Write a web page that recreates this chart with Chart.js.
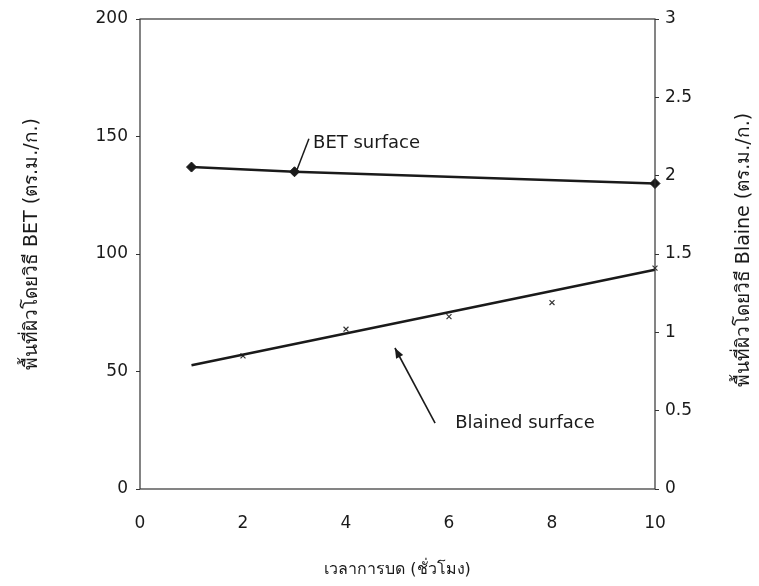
<!DOCTYPE html>
<html>
<head>
<meta charset="utf-8">
<script src="https://cdn.jsdelivr.net/npm/chart.js@4/dist/chart.umd.min.js"></script>
<style>
html,body{margin:0;padding:0;background:#fff;}
#wrap{width:759px;height:586px;position:relative;}
</style>
</head>
<body>
<div id="wrap"><canvas id="c"></canvas></div>
<script>
// ---- data ----
const betHours = [1, 3, 10];
const betValues = [137, 135, 130];                    // left axis (BET)
const blaineHours = [2, 4, 6, 8, 10];
const blaineValues = [0.85, 1.02, 1.10, 1.19, 1.41];  // right axis (Blaine)
const blaineTrendHours = [1, 10];
const blaineTrendValues = [0.79, 1.40];
const xTicks = [0, 2, 4, 6, 8, 10];
const leftTicks = [0, 50, 100, 150, 200];
const rightTicks = [0, 0.5, 1, 1.5, 2, 2.5, 3];

const xTitle = 'เวลาการบด (ชั่วโมง)';
const leftTitle = 'พื้นที่ผิวโดยวิธี BET (ตร.ม./ก.)';
const rightTitle = 'พื้นที่ผิวโดยวิธี Blaine (ตร.ม./ก.)';
const betNote = 'BET surface';
const blaineNote = 'Blained surface';

const FONT = '"DejaVu Sans", "Noto Sans", sans-serif';
const INK = '#1a1a1a';

const pts = (xs, ys) => xs.map((x, i) => ({x: x, y: ys[i]}));

const framePlugin = {
  id: 'frame',
  afterDraw(chart) {
    const {ctx, chartArea: a, scales} = chart;
    ctx.save();
    ctx.strokeStyle = '#333';
    ctx.lineWidth = 1.2;
    ctx.strokeRect(a.left, a.top, a.right - a.left, a.bottom - a.top);
    const X = scales.x, L = scales.y, R = scales.y2;
    ctx.fillStyle = INK;
    ctx.strokeStyle = INK;
    // rotated axis titles (both read bottom-to-top)
    ctx.font = '19px ' + FONT;
    ctx.textAlign = 'center';
    ctx.textBaseline = 'middle';
    ctx.save();
    ctx.translate(32, 244);
    ctx.rotate(-Math.PI / 2);
    ctx.fillText(leftTitle, 0, 0);
    ctx.restore();
    ctx.save();
    ctx.translate(744, 250);
    ctx.rotate(-Math.PI / 2);
    ctx.fillText(rightTitle, 0, 0);
    ctx.restore();
    // BET label with leader
    ctx.font = '18px ' + FONT;
    ctx.lineWidth = 1.5;
    ctx.beginPath();
    ctx.moveTo(X.getPixelForValue(3.28), L.getPixelForValue(149));
    ctx.lineTo(X.getPixelForValue(3.05), L.getPixelForValue(136));
    ctx.stroke();
    ctx.textAlign = 'left';
    ctx.fillText(betNote, X.getPixelForValue(3.36), L.getPixelForValue(147));
    // Blaine label with arrow
    const tx = X.getPixelForValue(5.73), ty = R.getPixelForValue(0.42);
    const hx = X.getPixelForValue(4.95), hy = R.getPixelForValue(0.90);
    ctx.lineWidth = 1.6;
    ctx.beginPath();
    ctx.moveTo(tx, ty);
    ctx.lineTo(hx, hy);
    ctx.stroke();
    const ang = Math.atan2(hy - ty, hx - tx);
    const hl = 10, hw = 4;
    ctx.beginPath();
    ctx.moveTo(hx, hy);
    ctx.lineTo(hx - hl * Math.cos(ang) + hw * Math.sin(ang), hy - hl * Math.sin(ang) - hw * Math.cos(ang));
    ctx.lineTo(hx - hl * Math.cos(ang) - hw * Math.sin(ang), hy - hl * Math.sin(ang) + hw * Math.cos(ang));
    ctx.closePath();
    ctx.fill();
    ctx.fillText(blaineNote, X.getPixelForValue(6.12), R.getPixelForValue(0.42));
    ctx.restore();
  }
};

new Chart(document.getElementById('c'), {
  type: 'scatter',
  data: {
    datasets: [
      {
        label: 'BET surface',
        data: pts(betHours, betValues),
        yAxisID: 'y',
        showLine: true,
        clip: false,
        borderColor: INK,
        backgroundColor: INK,
        borderWidth: 2.6,
        pointStyle: 'rectRot',
        pointRadius: 5,
        pointBorderWidth: 1
      },
      {
        label: 'Blaine trend',
        data: pts(blaineTrendHours, blaineTrendValues),
        yAxisID: 'y2',
        showLine: true,
        clip: false,
        borderColor: INK,
        borderWidth: 2.6,
        pointRadius: 0
      },
      {
        label: 'Blained surface',
        data: pts(blaineHours, blaineValues),
        yAxisID: 'y2',
        showLine: false,
        clip: false,
        borderColor: '#333',
        backgroundColor: '#333',
        pointStyle: 'crossRot',
        pointRadius: 3.5,
        pointBorderWidth: 1.2
      }
    ]
  },
  options: {
    responsive: true,
    maintainAspectRatio: false,
    animation: false,
    layout: {padding: {left: 8, right: 2, top: 19, bottom: 3}},
    plugins: {legend: {display: false}, tooltip: {enabled: false}},
    scales: {
      x: {
        type: 'linear', min: 0, max: 10,
        afterBuildTicks: s => { s.ticks = xTicks.map(v => ({value: v})); },
        afterFit: s => { s.height = 94; },
        grid: {display: true, drawOnChartArea: false, drawTicks: false, color: '#333'},
        border: {display: false},
        ticks: {color: INK, font: {family: FONT, size: 17}, padding: 24},
        title: {display: true, text: xTitle, color: INK, font: {family: FONT, size: 16}, padding: {top: 4, bottom: 4}}
      },
      y: {
        type: 'linear', position: 'left', min: 0, max: 200,
        afterBuildTicks: s => { s.ticks = leftTicks.map(v => ({value: v})); },
        afterFit: s => { s.width = 132; },
        grid: {display: true, drawOnChartArea: false, tickLength: 4, color: '#333'},
        border: {display: false},
        ticks: {color: INK, font: {family: FONT, size: 17}, padding: 8},
        title: {display: false}
      },
      y2: {
        type: 'linear', position: 'right', min: 0, max: 3,
        afterBuildTicks: s => { s.ticks = rightTicks.map(v => ({value: v})); },
        afterFit: s => { s.width = 102; },
        grid: {display: true, drawOnChartArea: false, tickLength: 4, color: '#333'},
        border: {display: false},
        ticks: {color: INK, font: {family: FONT, size: 17}, padding: 6, callback: v => String(v)},
        title: {display: false}
      }
    }
  },
  plugins: [framePlugin]
});
</script>
</body>
</html>
